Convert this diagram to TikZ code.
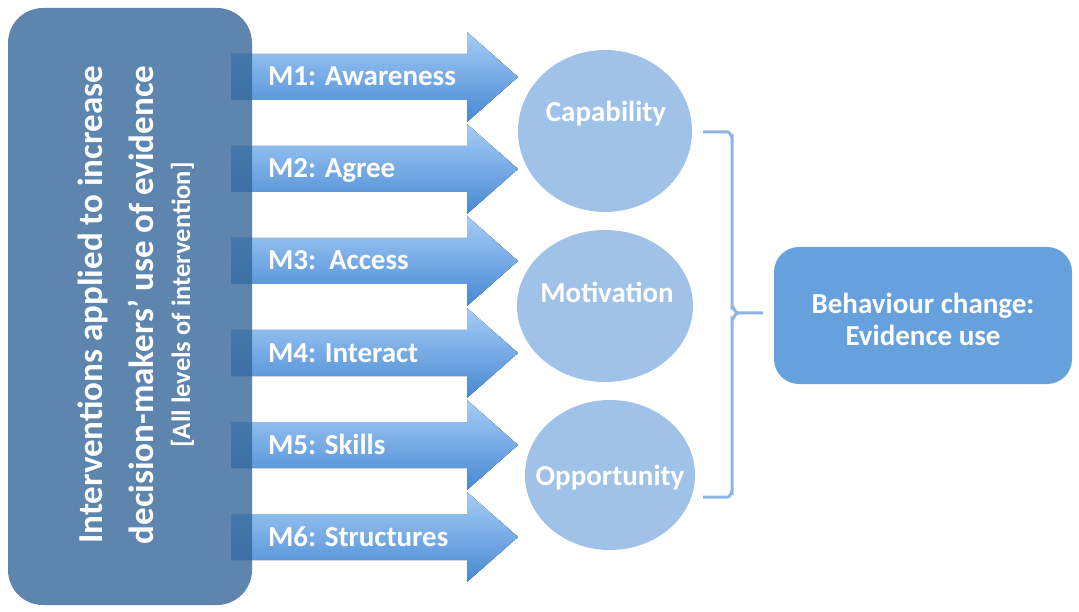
\documentclass[tikz,border=0pt]{standalone}
\usepackage{fontspec}
\setmainfont{Carlito}
\usetikzlibrary{
  calc,
  positioning,
  shapes.geometric,
}
\definecolor{intvblue}{RGB}{52,102,152}
\definecolor{arrtop}{RGB}{166,204,247}
\definecolor{arrbot}{RGB}{70,137,210}
\definecolor{circblue}{RGB}{160,194,232}
\definecolor{resblue}{RGB}{102,160,221}
\definecolor{braceblue}{RGB}{141,181,227}

\begin{document}
\begin{tikzpicture}[
    x = 1pt,
    y = -1pt,
    a/.style={top color=arrtop, bottom color=arrbot},
    b/.style={font=\fontsize{29}{32}\selectfont\bfseries, text=white,
      inner sep=0pt, outer sep=0pt},
    v/.style={text=white, inner sep=0pt, rotate=90, anchor=base},
    n/.style={ellipse, fill=circblue, inner sep=0pt, outer sep=0pt},]
  \useasboundingbox (0,0) rectangle (1079,612);
  %%
  \foreach \i/\txt in {1/{M1: Awareness}, 2/{M2: Agree}, 3/{M3:\ \ Access},
    4/{M4: Interact}, 5/{M5: Skills}, 6/{M6: Structures}} {
    \pgfmathsetmacro\yc{77+92*(\i-1)}
    \fill[a] (231,\yc-23) -- (467,\yc-23) -- (467,\yc-45) -- (518,\yc)
    -- (467,\yc+45) -- (467,\yc+23) -- (231,\yc+23) -- cycle;
    \node[b, anchor=base west] (M\i) at (268,\yc+9) {\txt};
  }
  %%
  \node[fill=intvblue, fill opacity=0.8, rounded corners=35pt,
  minimum width=244pt, minimum height=597pt] (Intv) at (130,306.5) {};
  \node[v, font=\fontsize{35}{40}\selectfont\bfseries] (IntvA)
  at (102,305) {Interventions applied to increase};
  \node[v, font=\fontsize{35}{40}\selectfont\bfseries] (IntvB)
  at (153,305) {decision-makers’ use of evidence};
  \node[v, font=\fontsize{26.5}{30}\selectfont\bfseries] (IntvC)
  at (190,305) {[All levels of intervention]};
  %%
  \node[n, minimum width=174pt, minimum height=162pt] (Cap) at (605,131) {};
  \node[n, minimum width=176pt, minimum height=152pt] (Mot) at (605,306) {};
  \node[n, minimum width=170pt, minimum height=150pt] (Opp) at (610,475) {};
  \node[b, anchor=base] (CapT) at (606,122) {Capability};
  \node[b, anchor=base] (MotT) at (607,303) {Motivation};
  \node[b, anchor=base] (OppT) at (610,485) {Opportunity};
  %%
  \node[fill=resblue, rounded corners=25pt, minimum width=298pt,
  minimum height=137pt] (Beh) at (923,315.5) {};
  \node[b, align=center] (BehT) at (923,319) {Behaviour change:\\Evidence use};
  %%
  \draw[braceblue, line width=3pt]
  ($(Cap.east)+(11,1)$) -- (728,132) to[out=0,in=-90] (732,137)
  -- (732,307) to[out=90,in=180] (738,313) -- ($(Beh.west)+(-11,-2.5)$);
  \draw[braceblue, line width=3pt]
  (738,313) to[out=180,in=-90] (732,319) -- (732,492)
  to[out=90,in=0] (728,497) -- ($(Opp.east)+(8,22)$);
\end{tikzpicture}
\end{document}
